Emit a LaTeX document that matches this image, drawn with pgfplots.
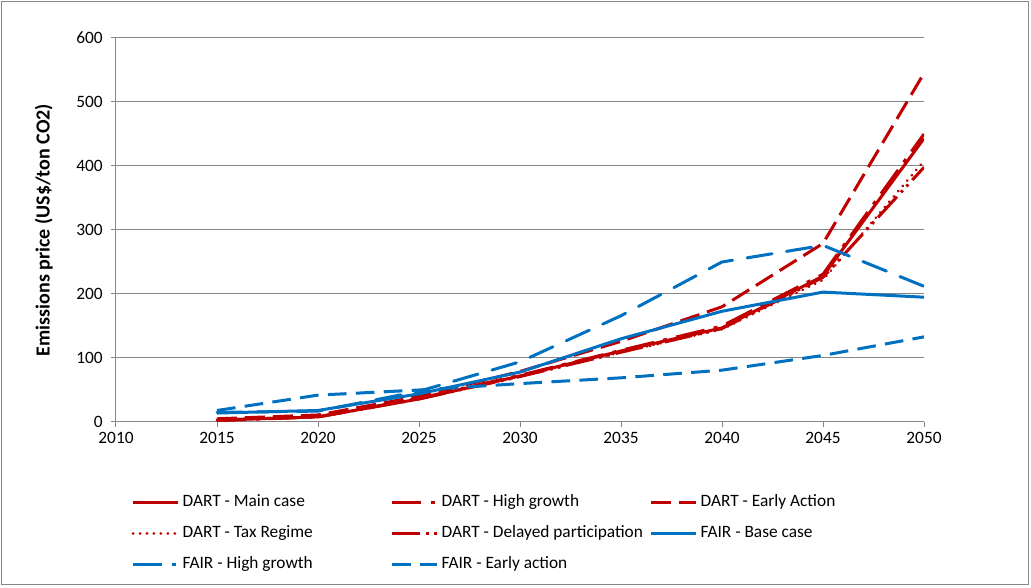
\documentclass[border=0pt]{standalone}
\usepackage{fontspec}
\setmainfont{Carlito}
\usepackage{pgfplots}
\pgfplotsset{compat=1.18}
\definecolor{dartred}{HTML}{C00000}
\definecolor{fairblue}{HTML}{0070C0}
\definecolor{gridgray}{HTML}{868686}

\newcommand{\entry}[1]{\makebox[154pt][l]{#1}}

\begin{document}
\begin{tikzpicture}
\begin{axis}[
  name=main,
  scale only axis,
  width=606pt, height=288pt,
  xmin=2010, xmax=2050, ymin=0, ymax=600,
  xtick={2010,2015,...,2050}, ytick={0,100,...,600},
  axis x line*=bottom, axis y line*=left,
  axis line style={gridgray, line width=0.75pt, -},
  ymajorgrids, grid style={gridgray, line width=0.75pt},
  tick align=outside, major tick length=4pt,
  tick style={gridgray, line width=0.75pt},
  tick label style={font=\fontsize{13}{15}\selectfont, black},
  yticklabel style={xshift=-2.5pt},
  /pgf/number format/1000 sep={},
  /pgf/number format/assume math mode=true,
  ylabel={\bfseries Emissions price (US\$/ton CO2)},
  ylabel style={font=\fontsize{15}{17}\selectfont, at={(axis description cs:-0.078,0.5)}, anchor=south, inner sep=0pt},
  legend columns=3,
  legend style={draw=none, inner sep=0pt, at={(0,0)}, anchor=north west,
    xshift=11.5pt, yshift=-52pt, font=\fontsize{13}{15}\selectfont,
    column sep=0pt, row sep=7.25pt,
    nodes={inner sep=2pt, text height=9pt, text depth=3pt}},
  legend cell align=left,
  legend image code/.code={\draw[#1] (0pt,0pt) -- (34pt,0pt);},
]
% DART scenarios
\addplot[dartred, line width=2.25pt] coordinates {
  (2015,3) (2020,8) (2025,36) (2030,72) (2035,111) (2040,147) (2045,228) (2050,443)};
\addlegendentry{\entry{DART - Main case}}
\addplot[dartred, line width=2.25pt, dash pattern=on 22pt off 7pt on 3pt off 7pt] coordinates {
  (2015,2) (2020,8) (2025,37) (2030,73) (2035,112) (2040,150) (2045,231) (2050,450)};
\addlegendentry{\entry{DART - High growth}}
\addplot[dartred, line width=2.25pt, dash pattern=on 15pt off 6pt] coordinates {
  (2015,5) (2020,11) (2025,40) (2030,79) (2035,126) (2040,180) (2045,279) (2050,545)};
\addlegendentry{DART - Early Action}
\addplot[dartred, line width=2.25pt, line cap=round, dash pattern=on 0.01pt off 5.2pt] coordinates {
  (2015,3) (2020,8) (2025,36) (2030,71) (2035,109) (2040,145) (2045,222) (2050,408)};
\addlegendentry{\entry{DART - Tax Regime}}
\addplot[dartred, line width=2.25pt, dash pattern=on 21pt off 4.5pt on 2pt off 4pt on 2pt off 4.5pt] coordinates {
  (2015,3) (2020,8) (2025,36) (2030,71) (2035,109) (2040,146) (2045,226) (2050,398)};
\addlegendentry{\entry{DART - Delayed participation}}
% FAIR scenarios
\addplot[fairblue, line width=2.25pt] coordinates {
  (2015,14) (2020,18) (2025,44) (2030,78) (2035,130) (2040,173) (2045,203) (2050,195)};
\addlegendentry{FAIR - Base case}
\addplot[fairblue, line width=2.25pt, line cap=round, dash pattern=on 19pt off 11pt, forget plot] coordinates {
  (2015,15) (2020,17) (2025,48) (2030,94) (2035,166) (2040,250) (2045,276) (2050,212)};
\addlegendimage{fairblue, line width=2.25pt, dash pattern=on 22pt off 7pt on 3pt off 7pt}
\addlegendentry{\entry{FAIR - High growth}}
\addplot[fairblue, line width=2.25pt, dash pattern=on 14pt off 7pt] coordinates {
  (2015,18) (2020,42) (2025,50) (2030,60) (2035,69) (2040,81) (2045,104) (2050,133)};
\addlegendentry{\entry{FAIR - Early action}}
\end{axis}
\draw[gridgray, line width=0.75pt] ([xshift=-85.5pt,yshift=-122pt]main.south west) rectangle ([xshift=78pt,yshift=27pt]main.north east);
\useasboundingbox ([xshift=-87pt,yshift=-124.5pt]main.south west) rectangle ([xshift=80.25pt,yshift=28.5pt]main.north east);
\end{tikzpicture}
\end{document}
